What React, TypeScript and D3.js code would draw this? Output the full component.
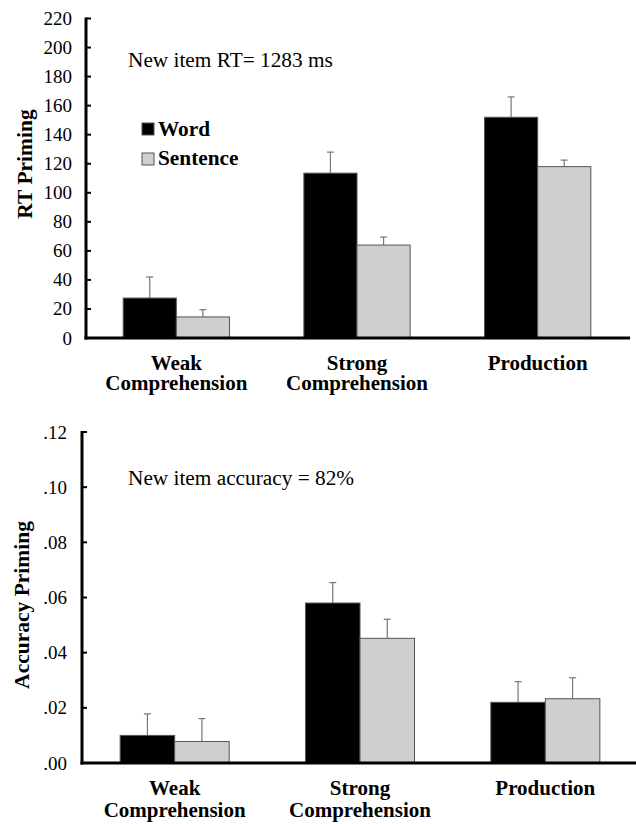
import React from "react";
import * as d3 from "d3";

const categories = ["Weak Comprehension", "Strong Comprehension", "Production"];
const categoryLines = [["Weak", "Comprehension"], ["Strong", "Comprehension"], ["Production"]];
const series = ["Word", "Sentence"];

const rtWord = [27.5, 113.5, 152];
const rtWordErr = [14.5, 14.5, 14];
const rtSentence = [14.5, 64, 118];
const rtSentenceErr = [5, 5.5, 4.5];
const rtTicks = [0, 20, 40, 60, 80, 100, 120, 140, 160, 180, 200, 220];

const accWord = [0.010, 0.058, 0.022];
const accWordErr = [0.0078, 0.0074, 0.0075];
const accSentence = [0.0078, 0.0452, 0.0233];
const accSentenceErr = [0.0083, 0.0069, 0.0076];
const accTicks = [0, 0.02, 0.04, 0.06, 0.08, 0.1, 0.12];

const FONT = "Liberation Serif, Tinos, Times New Roman, DejaVu Serif, serif";
const fills: Record<string, string> = { Word: "#000000", Sentence: "#d0cece" };

type PanelProps = {
  values: number[][];
  errors: number[][];
  ticks: number[];
  tickFmt: (v: number) => string;
  yMax: number;
  x0: number;
  x1: number;
  yTop: number;
  yBottom: number;
  tickLabelX: number;
  title: string;
  titleX: number;
  titleY: number;
  note: string;
  noteY: number;
  labelY1: number;
  labelY2: number;
};

function Panel(p: PanelProps) {
  const x = d3.scaleBand<string>().domain(categories).range([p.x0, p.x1]).paddingInner(0).paddingOuter(0);
  const xi = d3.scaleBand<string>().domain(series).range([0, x.bandwidth()]).paddingInner(0).paddingOuter(0.7);
  const y = d3.scaleLinear().domain([0, p.yMax]).range([p.yBottom, p.yTop]);
  return (
    <g>
      {categories.map((c, ci) =>
        series.map((s, si) => {
          const v = p.values[si][ci];
          const e = p.errors[si][ci];
          const bx = (x(c) as number) + (xi(s) as number);
          const w = xi.bandwidth();
          const cx = bx + w / 2;
          return (
            <g key={c + s}>
              <line x1={cx} x2={cx} y1={y(v)} y2={y(v + e)} stroke="#777" strokeWidth={1.2} />
              <line x1={cx - 3.5} x2={cx + 3.5} y1={y(v + e)} y2={y(v + e)} stroke="#777" strokeWidth={1.2} />
              <rect x={bx} y={y(v)} width={w} height={y(0) - y(v)} fill={fills[s]} stroke="#555" strokeWidth={1} />
            </g>
          );
        })
      )}
      {p.ticks.map((t) => (
        <g key={t}>
          <line x1={p.x0} x2={p.x0 + 5} y1={y(t)} y2={y(t)} stroke="#000" strokeWidth={2} />
          <text x={p.tickLabelX} y={y(t) + 6.5} textAnchor="end" fontFamily={FONT} fontSize={19} fill="#000">
            {p.tickFmt(t)}
          </text>
        </g>
      ))}
      <line x1={p.x0} x2={p.x0} y1={p.yTop - 1} y2={p.yBottom + 1.5} stroke="#000" strokeWidth={3} />
      <line x1={p.x0 - 1.5} x2={p.x1 + 2} y1={p.yBottom} y2={p.yBottom} stroke="#000" strokeWidth={3} />
      {categories.map((c, ci) => {
        const cx = (x(c) as number) + x.bandwidth() / 2;
        const lines = categoryLines[ci];
        return (
          <text key={c} textAnchor="middle" fontFamily={FONT} fontWeight="bold" fontSize={21} fill="#000">
            <tspan x={cx} y={p.labelY1}>{lines[0]}</tspan>
            {lines[1] && <tspan x={cx} y={p.labelY2}>{lines[1]}</tspan>}
          </text>
        );
      })}
      <text
        transform={`translate(${p.titleX},${p.titleY}) rotate(-90)`}
        textAnchor="middle"
        fontFamily={FONT}
        fontWeight="bold"
        fontSize={21.5}
        fill="#000"
      >
        {p.title}
      </text>
      <text x={128} y={p.noteY} fontFamily={FONT} fontSize={21.3} fill="#000">
        {p.note}
      </text>
    </g>
  );
}

export default function App() {
  return (
    <svg width={636} height={824} style={{ position: "absolute", left: 0, top: 0, background: "#fff" }}>
      <rect width={636} height={824} fill="#fff" />
      <Panel
        values={[rtWord, rtSentence]}
        errors={[rtWordErr, rtSentenceErr]}
        ticks={rtTicks}
        tickFmt={(v) => String(v)}
        yMax={220}
        x0={86}
        x1={628}
        yTop={18.5}
        yBottom={338}
        tickLabelX={72}
        title="RT Priming"
        titleX={32}
        titleY={164}
        note="New item RT= 1283 ms"
        noteY={67}
        labelY1={370}
        labelY2={390}
      />
      <Panel
        values={[accWord, accSentence]}
        errors={[accWordErr, accSentenceErr]}
        ticks={accTicks}
        tickFmt={(v) => d3.format(".2f")(v).replace(/^0/, "")}
        yMax={0.12}
        x0={82}
        x1={638}
        yTop={432}
        yBottom={763}
        tickLabelX={67}
        title="Accuracy Priming"
        titleX={29}
        titleY={605}
        note="New item accuracy = 82%"
        noteY={485}
        labelY1={795}
        labelY2={817}
      />
      <g fontFamily={FONT} fontWeight="bold" fontSize={21.3} fill="#000">
        <rect x={142} y={123} width={12} height={12} fill={fills.Word} stroke="#555" strokeWidth={1} />
        <text x={158} y={136}>{series[0]}</text>
        <rect x={142} y={153} width={12} height={12} fill={fills.Sentence} stroke="#555" strokeWidth={1} />
        <text x={158} y={165}>{series[1]}</text>
      </g>
    </svg>
  );
}
